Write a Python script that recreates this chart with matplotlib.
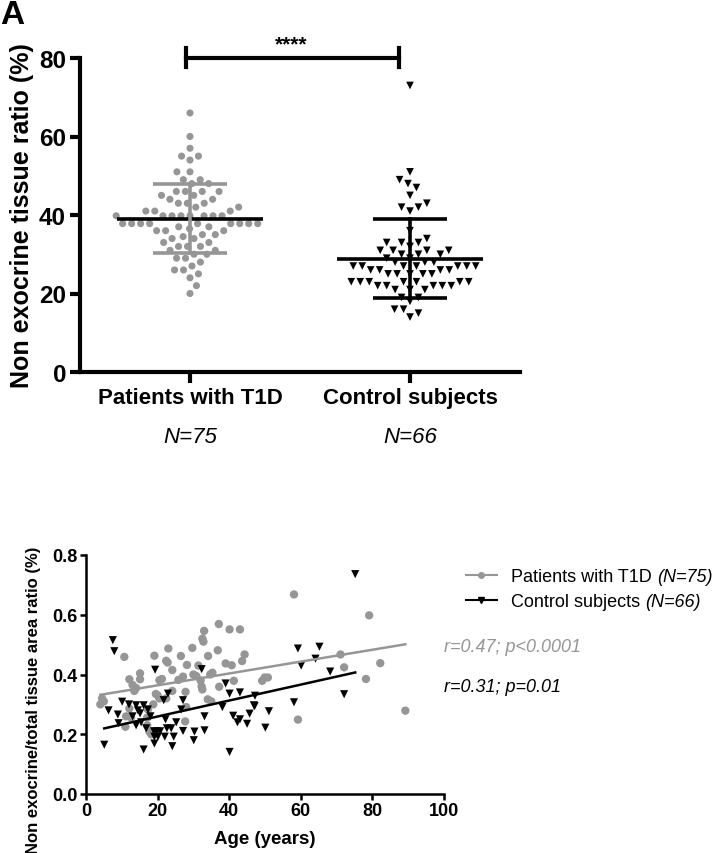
import numpy as np
import matplotlib
matplotlib.use("Agg")
import matplotlib.pyplot as plt
from matplotlib.lines import Line2D

plt.rcParams['font.family'] = ['Liberation Sans', 'DejaVu Sans']

GRAY = '#969696'

# ---- panel A data: non exocrine tissue ratio (%) ----
groups = ['Patients with T1D', 'Control subjects']
group_n = ['N=75', 'N=66']
t1d_ratio = [66, 60, 57, 55, 55, 54, 51, 51, 49, 49, 48, 48, 46, 46, 46, 46,
             45, 45, 44, 44, 43, 43, 43, 42, 42, 41, 41, 41,
             39.8, 39.8, 39.8, 39.8, 39.8, 39.8, 39.8, 39.8,
             37.8, 37.8, 37.8, 37.8, 37.8, 37.8, 37.8, 37.8, 37.8,
             37, 37, 36.5, 36, 36, 36, 35, 35, 34.5, 34, 34, 33, 33, 32, 32,
             32, 31, 31, 30, 30, 29, 29, 28, 27, 26, 26, 25, 24, 22, 20]
ctrl_ratio = [73, 51, 49, 48, 47, 45, 43, 42, 42, 41, 36, 34, 33, 33, 33, 32,
              31, 31, 31, 31, 30, 30, 30, 29, 29, 28, 28, 28, 27, 27, 27, 27,
              27, 27, 27, 26, 26, 26, 26, 25, 25, 25, 25, 25, 23, 23, 23, 23,
              23, 23, 23, 22, 22, 22, 22, 22, 21, 21, 21, 19, 19, 18, 16, 16,
              15, 14]

# ---- panel B data: age vs ratio ----
t1d_age = [4.5, 4.0, 5.0, 10.7, 11.2, 12.1, 12.1, 11.0, 12.6, 13.0, 13.5,
           14.0, 15.1, 15.1, 17.3, 17.1, 17.1, 17.7, 18.2, 18.8, 19.1, 19.5,
           20.0, 20.5, 20.5, 21.2, 22.4, 22.8, 22.4, 23.0, 24.1, 24.1, 25.8,
           26.5, 27.1, 27.7, 27.8, 28.0, 28.2, 29.7, 30.0, 30.8, 31.4, 32.0,
           32.3, 32.5, 32.8, 32.5, 33.0, 34.1, 34.7, 35.3, 34.0, 35.0, 36.8,
           37.1, 37.2, 39.0, 40.7, 40.1, 41.3, 43.0, 43.6, 44.3, 49.2, 49.9,
           50.8, 58.1, 59.2, 71.1, 72.1, 78.2, 79.1, 82.2, 89.2]
t1d_val = [0.32, 0.30, 0.31, 0.459, 0.26, 0.286, 0.384, 0.225, 0.256, 0.365,
           0.345, 0.355, 0.404, 0.384, 0.283, 0.256, 0.23, 0.209, 0.20, 0.30,
           0.463, 0.335, 0.33, 0.32, 0.381, 0.385, 0.446, 0.44, 0.32, 0.487,
           0.415, 0.345, 0.382, 0.462, 0.393, 0.243, 0.342, 0.291, 0.432,
           0.489, 0.40, 0.395, 0.43, 0.38, 0.36, 0.35, 0.51, 0.52, 0.546,
           0.462, 0.40, 0.406, 0.317, 0.31, 0.481, 0.569, 0.359, 0.437, 0.431,
           0.551, 0.379, 0.551, 0.445, 0.467, 0.379, 0.39, 0.39, 0.668, 0.249,
           0.467, 0.424, 0.385, 0.598, 0.438, 0.279]
ctrl_age = [5.1, 6.3, 7.5, 7.9, 8.9, 9.1, 10.1, 14.0, 14.5, 15.1, 14.0, 15.4,
            16.1, 16.1, 16.8, 17.3, 19.0, 19.1, 19.1, 19.3, 19.8, 20.1, 20.7,
            21.7, 22.0, 22.2, 22.6, 22.9, 23.8, 24.1, 24.5, 25.2, 26.6, 27.1,
            27.1, 30.1, 30.3, 32.3, 33.1, 33.1, 38.1, 39.0, 40.1, 40.1, 41.1,
            42.3, 43.0, 43.0, 45.0, 45.7, 46.9, 47.1, 47.2, 50.1, 51.1, 58.1,
            59.2, 60.1, 64.1, 65.2, 68.2, 72.1, 75.2, 12.0, 13.0, 18.0]
ctrl_val = [0.165, 0.28, 0.515, 0.478, 0.266, 0.237, 0.309, 0.297, 0.28, 0.27,
            0.23, 0.24, 0.297, 0.149, 0.22, 0.283, 0.21, 0.192, 0.169, 0.416,
            0.21, 0.192, 0.21, 0.314, 0.192, 0.25, 0.22, 0.336, 0.22, 0.16,
            0.192, 0.24, 0.283, 0.314, 0.211, 0.18, 0.209, 0.418, 0.26, 0.213,
            0.291, 0.37, 0.336, 0.141, 0.262, 0.24, 0.25, 0.34, 0.235, 0.269,
            0.297, 0.294, 0.329, 0.222, 0.277, 0.307, 0.487, 0.43, 0.453,
            0.493, 0.41, 0.334, 0.736, 0.30, 0.26, 0.26]


def swarm_offsets(vals, d, yscale, xscale, ysquash=0.8):
    # greedy beeswarm in pixel space, returns offsets in data units
    ys = np.asarray(vals, dtype=float) * yscale * ysquash
    offs = np.zeros(len(ys))
    placed = []
    for i in np.argsort(ys):
        y = ys[i]
        near = [(px, py) for px, py in placed if abs(py - y) < d]
        cands = [0.0]
        for px, py in near:
            dx = np.sqrt(d ** 2 - (py - y) ** 2)
            cands += [px + dx, px - dx]
        for c in sorted(cands, key=abs):
            if all((c - px) ** 2 + (y - py) ** 2 >= d ** 2 - 1e-6 for px, py in near):
                break
        offs[i] = c
        placed.append((c, y))
    return offs / xscale


fig = plt.figure(figsize=(7.28, 8.54), dpi=100)

# ---------------- panel A ----------------
ax1 = fig.add_axes([80 / 728, 1 - 373 / 854, 440 / 728, 314 / 854])
ypx = 314 / 80.0
xpx = 220.0
for k, (vals, col, mk) in enumerate([(t1d_ratio, GRAY, 'o'), (ctrl_ratio, 'black', 'v')]):
    off = swarm_offsets(vals, 9.0, ypx, xpx)
    ax1.scatter(k + off, vals, s=26 if mk == 'o' else 30, marker=mk, color=col,
                edgecolors='none', zorder=2, clip_on=False)
    m = np.mean(vals)
    sd = np.std(vals, ddof=1)
    ax1.plot([k - 0.33, k + 0.33], [m, m], color='black', lw=2.6, zorder=3,
             solid_capstyle='butt')
    ax1.plot([k - 0.17, k + 0.17], [m + sd, m + sd], color=col, lw=2.6, zorder=3,
             solid_capstyle='butt')
    ax1.plot([k - 0.17, k + 0.17], [m - sd, m - sd], color=col, lw=2.6, zorder=3,
             solid_capstyle='butt')
    ax1.plot([k, k], [m - sd, m + sd], color=col, lw=2.6, zorder=3)

ax1.set_xlim(-0.5, 1.5)
ax1.set_ylim(0, 80)
ax1.set_yticks([0, 20, 40, 60, 80])
ax1.set_xticks([0, 1])
ax1.set_xticklabels(groups, fontsize=16, fontweight='bold')
for lab in ax1.get_yticklabels():
    lab.set_fontweight('bold')
ax1.tick_params(axis='y', labelsize=17.5, length=7, width=3, pad=3)
ax1.tick_params(axis='x', length=8, width=3, pad=3)
for s in ['top', 'right']:
    ax1.spines[s].set_visible(False)
for s in ['left', 'bottom']:
    ax1.spines[s].set_linewidth(3)
ax1.set_ylabel('Non exocrine tissue ratio (%)', fontsize=18, fontweight='bold',
               labelpad=4)
for k, n in enumerate(group_n):
    ax1.text(k, -0.205, n, transform=ax1.get_xaxis_transform(), ha='center',
             va='center', fontsize=16, style='italic')

# significance bracket
ax1.plot([-0.02, 0.95], [80, 80], color='black', lw=3, clip_on=False)
ax1.plot([-0.02, -0.02], [77.6, 82.6], color='black', lw=3, clip_on=False)
ax1.plot([0.95, 0.95], [77.6, 82.6], color='black', lw=3, clip_on=False)
ax1.text(0.46, 81.3, '****', ha='center', va='bottom', fontsize=15,
         fontweight='bold')
fig.text(0.0, 1.0, 'A', fontsize=24, fontweight='bold', va='top', ha='left')

# ---------------- panel B ----------------
ax2 = fig.add_axes([86 / 728, 1 - 795 / 854, 358 / 728, 239 / 854])
ax2.scatter(t1d_age, t1d_val, s=36, marker='o', color=GRAY, edgecolors='none',
            zorder=2)
ax2.scatter(ctrl_age, ctrl_val, s=34, marker='v', color='black',
            edgecolors='none', zorder=3)
for ages, vals, col in [(t1d_age, t1d_val, GRAY), (ctrl_age, ctrl_val, 'black')]:
    a, b = np.polyfit(ages, vals, 1)
    xx = np.array([min(ages), max(ages)])
    ax2.plot(xx, a * xx + b, color=col, lw=1.8, zorder=4)

ax2.set_xlim(0, 100)
ax2.set_ylim(0, 0.8)
ax2.set_xticks([0, 20, 40, 60, 80, 100])
ax2.set_yticks([0.0, 0.2, 0.4, 0.6, 0.8])
ax2.set_yticklabels(['0.0', '0.2', '0.4', '0.6', '0.8'])
for lab in ax2.get_xticklabels() + ax2.get_yticklabels():
    lab.set_fontweight('bold')
ax2.tick_params(labelsize=13, length=4, width=1.8, pad=2)
for s in ['top', 'right']:
    ax2.spines[s].set_visible(False)
for s in ['left', 'bottom']:
    ax2.spines[s].set_linewidth(1.8)
ax2.set_xlabel('Age (years)', fontsize=13.5, fontweight='bold', labelpad=8)
ax2.set_ylabel('Non exocrine/total tissue area ratio (%)', fontsize=12,
               fontweight='bold')
ax2.yaxis.set_label_coords(-0.125, (795 - 700) / 239)

handles = [Line2D([0], [0], color=GRAY, lw=1.5, marker='o', markersize=4),
           Line2D([0], [0], color='black', lw=1.5, marker='v', markersize=4)]
leg = fig.legend(handles, ['Patients with T1D', 'Control subjects'],
                 loc='upper left', bbox_to_anchor=(466 / 728, 1 - 569 / 854),
                 frameon=False, fontsize=13, handlelength=1.7,
                 handletextpad=0.8, labelspacing=0.45, borderpad=0,
                 borderaxespad=0)
ax2.text(1.0, (795 - 647) / 239, 'r=0.47; p<0.0001', transform=ax2.transAxes,
         color=GRAY, fontsize=13, style='italic', va='center', ha='left')
ax2.text(1.0, (795 - 687) / 239, 'r=0.31; p=0.01', transform=ax2.transAxes,
         color='black', fontsize=13, style='italic', va='center', ha='left')

# italic group sizes appended after the legend labels
fig.canvas.draw()
rend = fig.canvas.get_renderer()
W, H = fig.canvas.get_width_height()
for t, n in zip(leg.get_texts(), ['(N=75)', '(N=66)']):
    bb = t.get_window_extent(rend)
    fig.text((bb.x1 + 5) / W, bb.y0 / H, n, fontsize=13, style='italic',
             ha='left', va='bottom')

fig.savefig('out.png', dpi=100)
